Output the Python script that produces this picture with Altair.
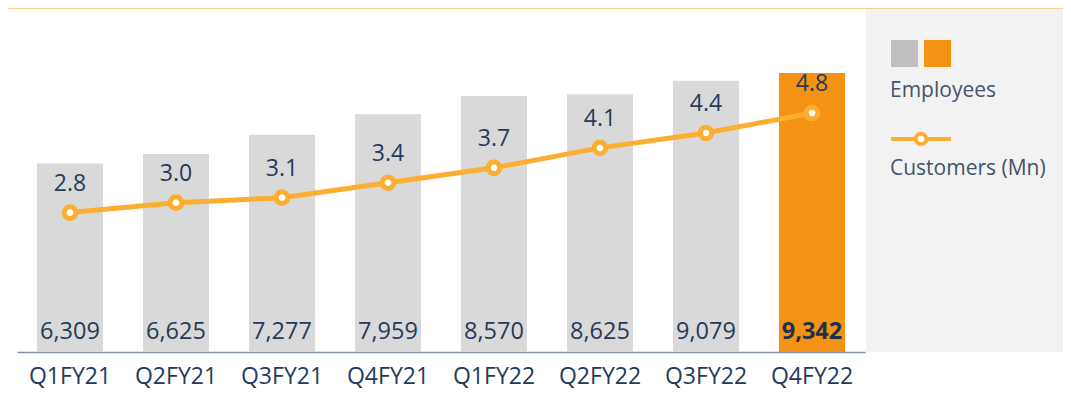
import altair as alt
import pandas as pd

quarters = ["Q1FY21", "Q2FY21", "Q3FY21", "Q4FY21", "Q1FY22", "Q2FY22", "Q3FY22", "Q4FY22"]
employees = [6309, 6625, 7277, 7959, 8570, 8625, 9079, 9342]
customers = [2.8, 3.0, 3.1, 3.4, 3.7, 4.1, 4.4, 4.8]
highlight = [False, False, False, False, False, False, False, True]

df = pd.DataFrame({
    "quarter": quarters,
    "employees": employees,
    "customers": customers,
    "highlight": highlight,
})
df["emp_label"] = [f"{v:,}" for v in employees]
df["cust_label"] = [f"{v:.1f}" for v in customers]
df["zero"] = 0

FONT = "Open Sans"
NAVY = "#263a5a"
GREY_BAR = "#d9d9d9"
ORANGE_BAR = "#f39215"
LINE = "#fbae30"
TOPLINE = "#fcd08a"
LEG_TEXT = "#44546a"

W, H = 848, 343
LW = 197

x_enc = alt.X("quarter:N", sort=quarters, title=None,
              scale=alt.Scale(paddingInner=0.377, paddingOuter=0.1885),
              axis=alt.Axis(labelAngle=0, labelFont=FONT, labelFontSize=23,
                            labelColor=NAVY, ticks=False, tickSize=0,
                            labelPadding=13, domainColor="#8593a8",
                            domainWidth=1.5, grid=False))
x_plain = alt.X("quarter:N", sort=quarters)

y_emp = alt.Scale(domain=[0, 11483])
y_cust = alt.Scale(domain=[0, 6.89])

base = alt.Chart(df)

bars = base.mark_bar().encode(
    x=x_enc,
    y=alt.Y("employees:Q", scale=y_emp, axis=None),
    color=alt.condition(alt.datum.highlight, alt.value(ORANGE_BAR), alt.value(GREY_BAR)),
)

emp_text = base.transform_filter("!datum.highlight").mark_text(
    font=FONT, fontSize=23.5, baseline="alphabetic", dy=-13, color=NAVY).encode(
    x=x_plain,
    y=alt.Y("zero:Q", scale=y_emp, axis=None),
    text="emp_label:N",
)
emp_text_hl = base.transform_filter("datum.highlight").mark_text(
    font=FONT, fontSize=23.5, fontWeight="bold", baseline="alphabetic", dy=-13, color="#1f3050").encode(
    x=x_plain,
    y=alt.Y("zero:Q", scale=y_emp, axis=None),
    text="emp_label:N",
)

line = base.mark_line(color=LINE, strokeWidth=5).encode(
    x=x_plain,
    y=alt.Y("customers:Q", scale=y_cust, axis=None),
)

pts = base.mark_point(shape="circle", filled=False, fill="white", fillOpacity=1,
                      stroke=LINE, strokeWidth=5, size=135, opacity=1).encode(
    x=x_plain,
    y=alt.Y("customers:Q", scale=y_cust, axis=None),
)

cust_text = base.mark_text(font=FONT, fontSize=23, baseline="alphabetic", dy=-22, color=NAVY).encode(
    x=x_plain,
    y=alt.Y("customers:Q", scale=y_cust, axis=None),
    text="cust_label:N",
)

# Decorations: top line and legend panel on the right
deco = alt.Chart(pd.DataFrame({"a": [0]}))
panel = deco.mark_rect(color="#f2f2f2").encode(
    x=alt.value(W + 1), x2=alt.value(W + 1 + LW), y=alt.value(0), y2=alt.value(H)
)
top_rule = deco.mark_rule(color=TOPLINE, strokeWidth=2).encode(
    x=alt.value(-9), x2=alt.value(W + 1 + LW), y=alt.value(-1)
)
sq1 = deco.mark_rect(color="#bfbfbf").encode(
    x=alt.value(W + 26), x2=alt.value(W + 53), y=alt.value(31), y2=alt.value(58)
)
sq2 = deco.mark_rect(color=ORANGE_BAR).encode(
    x=alt.value(W + 59), x2=alt.value(W + 86), y=alt.value(31), y2=alt.value(58)
)
t1 = deco.mark_text(text="Employees", font=FONT, fontSize=21, color=LEG_TEXT,
                    align="left", baseline="alphabetic").encode(
    x=alt.value(W + 25), y=alt.value(88)
)
lline = deco.mark_rule(color=LINE, strokeWidth=4).encode(
    x=alt.value(W + 26), x2=alt.value(W + 86), y=alt.value(130)
)
lpt = deco.mark_point(shape="circle", filled=False, fill="white", fillOpacity=1,
                      stroke=LINE, strokeWidth=4, size=110, opacity=1).encode(
    x=alt.value(W + 56), y=alt.value(130)
)
t2 = deco.mark_text(text="Customers (Mn)", font=FONT, fontSize=21, color=LEG_TEXT,
                    align="left", baseline="alphabetic").encode(
    x=alt.value(W + 25), y=alt.value(166)
)

chart = alt.layer(
    panel, top_rule, bars, emp_text, emp_text_hl, line, pts, cust_text,
    sq1, sq2, t1, lline, lpt, t2
).resolve_scale(y="independent").properties(
    width=W, height=H,
    autosize=alt.AutoSizeParams(type="none"),
    padding={"left": 9, "top": 1, "right": 198, "bottom": 37},
).configure(background="white", view=alt.ViewConfig(stroke="transparent", strokeWidth=0))

chart.save("out.html", embed_options={"renderer": "svg", "actions": False})
